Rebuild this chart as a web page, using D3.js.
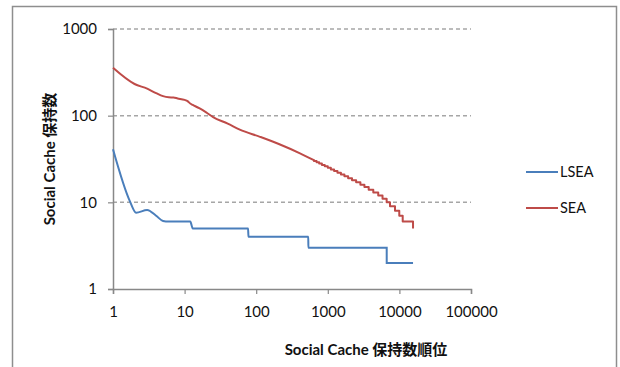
<!DOCTYPE html>
<html>
<head>
<meta charset="utf-8">
<script src="https://cdn.jsdelivr.net/npm/d3@7"></script>
<style>
  body { margin: 0; background: #fff; }
  svg text { font-family: Lato, "Noto Sans CJK JP", sans-serif; fill: #111; }
</style>
</head>
<body>
<svg id="chart" width="620" height="367"></svg>
<script>
// tick values
var xTicks = [1, 10, 100, 1000, 10000, 100000];
var yTicks = [1, 10, 100, 1000];

// LSEA (rank, count)
var lseaRank  = [1, 1.73, 2.1, 3, 4, 5, 6, 12, 13, 77, 78, 534, 535, 6650, 6651, 15500];
var lseaValue = [41, 10.2, 7.6, 8.15, 7.0, 6.1, 6, 6, 5, 5, 4, 4, 3, 3, 2, 2];

// SEA, head of the curve
var seaRank  = [1, 2, 3, 4, 5, 6, 7, 8, 10, 11, 12, 13, 16, 20, 25, 40, 59, 113, 215, 409, 630];
var seaValue = [357, 232, 205, 182, 168, 163, 162, 158, 152, 147, 138, 133, 122, 109, 96, 81, 69, 57, 46.5, 36.8, 30.8];

// SEA, stepped tail (rank where each count starts)
var seaStepRank  = [640, 697, 757, 827, 907, 999, 1103, 1224, 1364, 1525, 1707, 1923, 2180, 2487,
                    2852, 3247, 3724, 4318, 5062, 5812, 6637, 7390, 8680, 9960, 11120, 15500];
var seaStepValue = [30, 29, 28, 27, 26, 25, 24, 23, 22, 21, 20, 19, 18, 17,
                    16, 15, 14, 13, 12, 11, 10, 9, 8, 7, 6, 5];

var series = ["LSEA", "SEA"];
var colors = { LSEA: "#4a7ebb", SEA: "#be4b48" };

var svg = d3.select("#chart");

// outer frame
svg.append("rect")
    .attr("x", 12.5).attr("y", 6.5)
    .attr("width", 604).attr("height", 372)
    .attr("fill", "none")
    .attr("stroke", "#8e8e8e")
    .attr("stroke-width", 1.5);

var x = d3.scaleLog().domain([1, 100000]).range([113, 471]);
var y = d3.scaleLog().domain([1, 1000]).range([289, 29]);

// dashed gridlines
svg.append("g")
    .selectAll("line")
    .data(yTicks.slice(1))
    .enter()
    .append("line")
    .attr("x1", x(1)).attr("x2", x(100000))
    .attr("y1", function(d) { return y(d); })
    .attr("y2", function(d) { return y(d); })
    .attr("stroke", "#a6a6a6")
    .attr("stroke-width", 1.5)
    .attr("stroke-dasharray", "4,3");

var xAxis = svg.append("g")
    .attr("transform", "translate(0," + y(1) + ")")
    .call(d3.axisBottom(x).tickValues(xTicks).tickFormat(d3.format("d"))
        .tickSize(5).tickPadding(12));
var yAxis = svg.append("g")
    .attr("transform", "translate(" + x(1) + ",0)")
    .call(d3.axisLeft(y).tickValues(yTicks).tickFormat(d3.format("d"))
        .tickSize(5).tickPadding(11));

[xAxis, yAxis].forEach(function(a) {
    a.select(".domain").attr("stroke", "#888").attr("stroke-width", 1.5);
    a.selectAll(".tick line").attr("stroke", "#888").attr("stroke-width", 1.2);
    a.selectAll(".tick text").attr("font-size", 15).attr("font-family", null);
});

// lines
var lineSmooth = d3.line()
    .x(function(d) { return x(d[0]); })
    .y(function(d) { return y(d[1]); })
    .curve(d3.curveMonotoneX);
var lineStep = d3.line()
    .x(function(d) { return x(d[0]); })
    .y(function(d) { return y(d[1]); })
    .curve(d3.curveStepAfter);

var lseaData = d3.zip(lseaRank, lseaValue);
var seaHead = d3.zip(seaRank, seaValue);
var seaTail = [seaHead[seaHead.length - 1]].concat(d3.zip(seaStepRank, seaStepValue));

svg.append("path")
    .attr("d", lineSmooth(lseaData))
    .attr("fill", "none")
    .attr("stroke", colors.LSEA)
    .attr("stroke-width", 2);

svg.append("path")
    .attr("d", lineSmooth(seaHead) + lineStep(seaTail).replace(/^M/, "L"))
    .attr("fill", "none")
    .attr("stroke", colors.SEA)
    .attr("stroke-width", 2)
    .attr("stroke-linejoin", "round");

// legend
var legend = svg.append("g")
    .selectAll("g")
    .data(series)
    .enter()
    .append("g")
    .attr("transform", function(d, i) { return "translate(526," + (172 + i * 36) + ")"; });
legend.append("line")
    .attr("x1", 0).attr("x2", 32)
    .attr("stroke", function(d) { return colors[d]; })
    .attr("stroke-width", 2);
legend.append("text")
    .attr("x", 34)
    .attr("dy", "0.35em")
    .attr("font-size", 14.5)
    .text(function(d) { return d; });

// axis titles
svg.append("text")
    .attr("x", 366).attr("y", 355)
    .attr("text-anchor", "middle")
    .attr("font-size", 15)
    .attr("font-weight", "bold")
    .text("Social Cache 保持数順位");

svg.append("text")
    .attr("transform", "translate(55,159) rotate(-90)")
    .attr("text-anchor", "middle")
    .attr("font-size", 15)
    .attr("font-weight", "bold")
    .text("Social Cache 保持数");
</script>
</body>
</html>
